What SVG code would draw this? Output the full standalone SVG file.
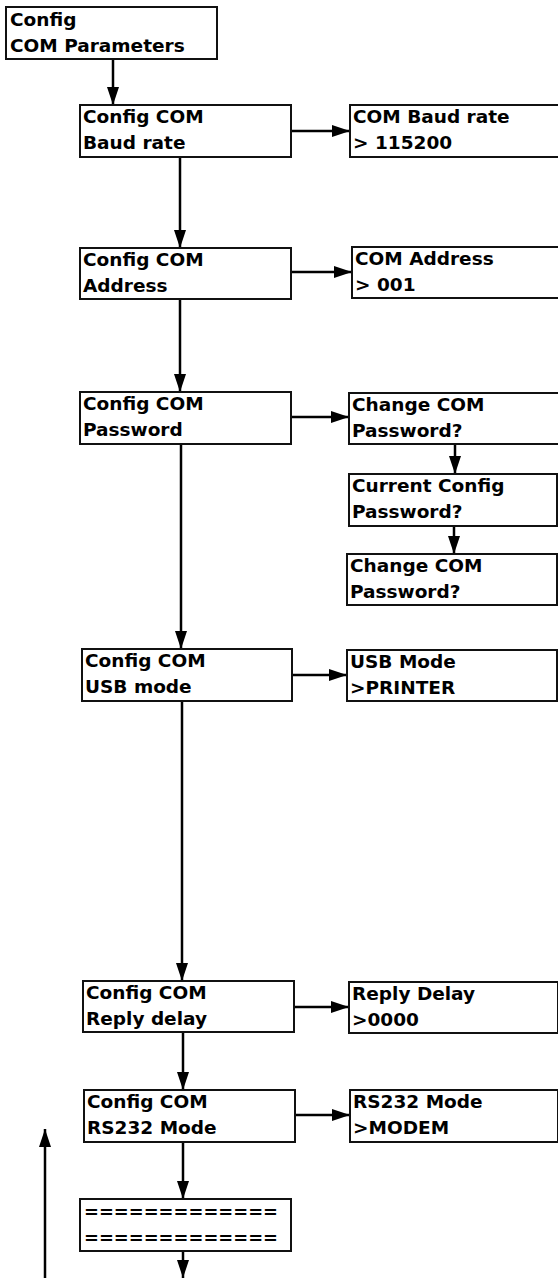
<svg xmlns="http://www.w3.org/2000/svg" width="558" height="1278" viewBox="0 0 558 1278">
<style>
  .box { fill: #fff; stroke: #111; stroke-width: 2; }
  .t { font-family: "DejaVu Sans", Verdana, sans-serif; font-weight: bold; font-size: 18.5px; fill: #000; }
  .c { stroke: #000; stroke-width: 2.5; fill: none; }
</style>
<defs>
  <marker id="ah" viewBox="0 0 18 12" refX="18" refY="6" markerWidth="18" markerHeight="12" markerUnits="userSpaceOnUse" orient="auto">
    <path d="M0,0 L18,6 L0,12 Z" fill="#000"/>
  </marker>
</defs>
<rect width="558" height="1278" fill="#fff"/>

<g id="connectors">
  <line class="c" x1="113" y1="59" x2="113" y2="105" marker-end="url(#ah)"/>
  <line class="c" x1="180" y1="157" x2="180" y2="248" marker-end="url(#ah)"/>
  <line class="c" x1="180" y1="299" x2="180" y2="392" marker-end="url(#ah)"/>
  <line class="c" x1="181" y1="444" x2="181" y2="649" marker-end="url(#ah)"/>
  <line class="c" x1="182" y1="701" x2="182" y2="981" marker-end="url(#ah)"/>
  <line class="c" x1="183" y1="1032" x2="183" y2="1090" marker-end="url(#ah)"/>
  <line class="c" x1="183" y1="1142" x2="183" y2="1199" marker-end="url(#ah)"/>
  <line class="c" x1="183" y1="1251" x2="183" y2="1278" marker-end="url(#ah)"/>
  <line class="c" x1="45" y1="1278" x2="45" y2="1129" marker-end="url(#ah)"/>
  <line class="c" x1="291" y1="131" x2="350" y2="131" marker-end="url(#ah)"/>
  <line class="c" x1="291" y1="272" x2="352" y2="272" marker-end="url(#ah)"/>
  <line class="c" x1="291" y1="417" x2="349" y2="417" marker-end="url(#ah)"/>
  <line class="c" x1="292" y1="675" x2="347" y2="675" marker-end="url(#ah)"/>
  <line class="c" x1="294" y1="1007" x2="349" y2="1007" marker-end="url(#ah)"/>
  <line class="c" x1="295" y1="1115" x2="350" y2="1115" marker-end="url(#ah)"/>
  <line class="c" x1="455" y1="444" x2="455" y2="474" marker-end="url(#ah)"/>
  <line class="c" x1="454" y1="526" x2="454" y2="554" marker-end="url(#ah)"/>
</g>

<g id="n-config">
  <rect class="box" x="6" y="7" width="211" height="52"/>
  <text class="t" x="10" y="26">Config</text>
  <text class="t" x="10" y="52">COM Parameters</text>
</g>

<g id="n-baud">
  <rect class="box" x="80" y="105" width="211" height="52"/>
  <text class="t" x="83" y="123">Config COM</text>
  <text class="t" x="83" y="149">Baud rate</text>
</g>
<g id="n-baud-val">
  <rect class="box" x="350" y="105" width="230" height="52"/>
  <text class="t" x="353" y="123">COM Baud rate</text>
  <text class="t" x="353" y="149">&gt; 115200</text>
</g>

<g id="n-addr">
  <rect class="box" x="80" y="248" width="211" height="51"/>
  <text class="t" x="83" y="266">Config COM</text>
  <text class="t" x="83" y="292">Address</text>
</g>
<g id="n-addr-val">
  <rect class="box" x="352" y="247" width="230" height="51"/>
  <text class="t" x="355" y="265">COM Address</text>
  <text class="t" x="355" y="291">&gt; 001</text>
</g>

<g id="n-pass">
  <rect class="box" x="80" y="392" width="211" height="52"/>
  <text class="t" x="83" y="410">Config COM</text>
  <text class="t" x="83" y="436">Password</text>
</g>
<g id="n-pass-change">
  <rect class="box" x="349" y="393" width="230" height="51"/>
  <text class="t" x="352" y="411">Change COM</text>
  <text class="t" x="352" y="437">Password?</text>
</g>
<g id="n-pass-current">
  <rect class="box" x="349" y="474" width="208" height="52"/>
  <text class="t" x="352" y="492">Current Config</text>
  <text class="t" x="352" y="518">Password?</text>
</g>
<g id="n-pass-change2">
  <rect class="box" x="347" y="554" width="210" height="51"/>
  <text class="t" x="350" y="572">Change COM</text>
  <text class="t" x="350" y="598">Password?</text>
</g>

<g id="n-usb">
  <rect class="box" x="82" y="649" width="210" height="52"/>
  <text class="t" x="85" y="667">Config COM</text>
  <text class="t" x="85" y="693">USB mode</text>
</g>
<g id="n-usb-val">
  <rect class="box" x="347" y="650" width="210" height="51"/>
  <text class="t" x="350" y="668">USB Mode</text>
  <text class="t" x="350" y="694">&gt;PRINTER</text>
</g>

<g id="n-reply">
  <rect class="box" x="83" y="981" width="211" height="51"/>
  <text class="t" x="86" y="999">Config COM</text>
  <text class="t" x="86" y="1025">Reply delay</text>
</g>
<g id="n-reply-val">
  <rect class="box" x="349" y="982" width="209" height="51"/>
  <text class="t" x="352" y="1000">Reply Delay</text>
  <text class="t" x="352" y="1026">&gt;0000</text>
</g>

<g id="n-rs232">
  <rect class="box" x="84" y="1090" width="211" height="52"/>
  <text class="t" x="87" y="1108">Config COM</text>
  <text class="t" x="87" y="1134">RS232 Mode</text>
</g>
<g id="n-rs232-val">
  <rect class="box" x="350" y="1090" width="208" height="52"/>
  <text class="t" x="353" y="1108">RS232 Mode</text>
  <text class="t" x="353" y="1134">&gt;MODEM</text>
</g>

<g id="n-sep">
  <rect class="box" x="80" y="1199" width="211" height="52"/>
  <text class="t" x="84" y="1218" textLength="194" lengthAdjust="spacingAndGlyphs">=============</text>
  <text class="t" x="84" y="1244" textLength="194" lengthAdjust="spacingAndGlyphs">=============</text>
</g>
</svg>
